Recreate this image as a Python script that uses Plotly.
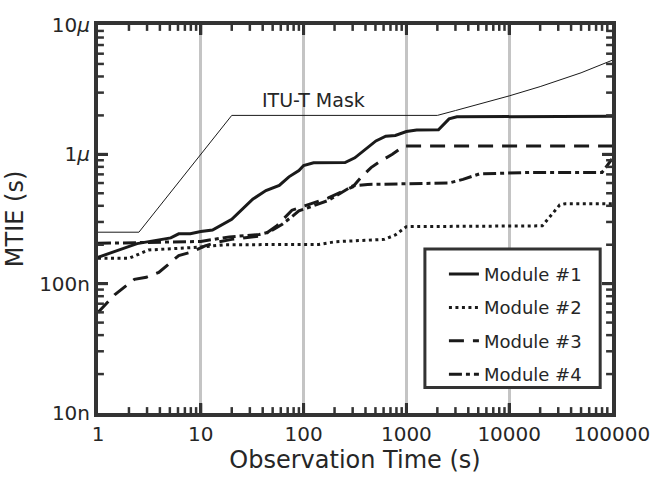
import plotly.graph_objects as go

# ---- data ----
mask_tau = [1, 2.5, 20, 2000, 3000, 5000, 10000, 20000, 50000, 100000]
mask_mtie = [2.5e-7, 2.5e-7, 2.0e-6, 2.0e-6, 2.18e-6, 2.43e-6, 2.83e-6, 3.34e-6, 4.27e-6, 5.33e-6]

m1_tau = [1, 2.4, 5.1, 6.1, 7.9, 10, 13, 20, 32, 43, 58, 72, 90, 100, 125, 175, 253, 315, 420, 505, 630, 780, 1000, 1260, 2050, 2600, 3100, 100000]
m1_mtie = [1.6e-7, 2.04e-7, 2.26e-7, 2.43e-7, 2.43e-7, 2.53e-7, 2.6e-7, 3.15e-7, 4.5e-7, 5.25e-7, 5.75e-7, 6.7e-7, 7.5e-7, 8.2e-7, 8.6e-7, 8.65e-7, 8.65e-7, 9.4e-7, 1.14e-6, 1.27e-6, 1.38e-6, 1.40e-6, 1.50e-6, 1.54e-6, 1.55e-6, 1.88e-6, 1.95e-6, 1.97e-6]

m2_tau = [1, 2, 3.1, 10, 17, 72, 140, 204, 610, 780, 1000, 21000, 31000, 35000, 100000]
m2_mtie = [1.57e-7, 1.57e-7, 1.82e-7, 1.92e-7, 2.0e-7, 2.01e-7, 2.01e-7, 2.11e-7, 2.2e-7, 2.38e-7, 2.76e-7, 2.8e-7, 4.06e-7, 4.15e-7, 4.15e-7]

m3_tau = [1, 1.45, 2.26, 2.95, 3.9, 4.9, 6.1, 8.0, 11, 14.7, 20, 40, 55, 77, 174, 300, 363, 453, 565, 730, 950, 100000]
m3_mtie = [6.0e-8, 8.2e-8, 1.08e-7, 1.12e-7, 1.22e-7, 1.42e-7, 1.65e-7, 1.75e-7, 1.96e-7, 2.1e-7, 2.2e-7, 2.35e-7, 2.8e-7, 3.7e-7, 4.6e-7, 5.6e-7, 6.65e-7, 7.9e-7, 8.9e-7, 1.0e-6, 1.16e-6, 1.16e-6]

m4_tau = [1, 3, 10, 19, 37, 46, 62, 77, 90, 174, 300, 420, 2600, 3550, 5100, 16700, 80000, 100000]
m4_mtie = [2.05e-7, 2.08e-7, 2.12e-7, 2.3e-7, 2.4e-7, 2.5e-7, 2.88e-7, 3.3e-7, 3.65e-7, 4.4e-7, 5.7e-7, 5.85e-7, 6.0e-7, 6.4e-7, 7.05e-7, 7.25e-7, 7.25e-7, 9.2e-7]

x_tickvals = [1, 10, 100, 1000, 10000, 100000]
x_ticktext = ["1", "10", "100", "1000", "10000", "100000"]
y_tickvals = [1e-8, 1e-7, 1e-6, 1e-5]
y_ticktext = ["10n", "100n", "1<i>μ</i>", "10<i>μ</i>"]

series_names = ["Module #1", "Module #2", "Module #3", "Module #4"]

FONT = "DejaVu Sans"
INK = "#1a1a1a"
AX = "#333333"
TXT = "#262626"

# minor tick positions (2..9 in each decade)
minor_x = [m * 10 ** e for e in range(0, 5) for m in range(2, 10)]
minor_y = [m * 10.0 ** e for e in range(-8, -5) for m in range(2, 10)]

fig = go.Figure()

fig.add_trace(go.Scatter(x=mask_tau, y=mask_mtie, mode="lines",
                         line=dict(color=INK, width=1), showlegend=False,
                         hoverinfo="skip"))

styles = [
    dict(color=INK, width=3, dash="solid"),
    dict(color=INK, width=3, dash="3px,3.5px"),
    dict(color=INK, width=3, dash="15px,9px"),
    dict(color=INK, width=3, dash="13px,4px,4px,4px"),
]
for i, (tx, ty) in enumerate([(m1_tau, m1_mtie), (m2_tau, m2_mtie),
                              (m3_tau, m3_mtie), (m4_tau, m4_mtie)]):
    fig.add_trace(go.Scatter(x=tx, y=ty, mode="lines", name=series_names[i],
                             line=styles[i], legendgroup=f"g{i}"))

# plot-area size in px (for tick lengths in paper units)
PW, PH = 662 - 96 - 44, 481 - 25 - 61
shapes = [dict(type="rect", xref="paper", yref="paper",
               x0=0.636, x1=0.977, y0=0.066, y1=0.423,
               fillcolor="white", line=dict(color=AX, width=3), layer="above")]


def xtick(v, length, width):
    for y0, y1 in ((0, length / PH), (1 - length / PH, 1)):
        shapes.append(dict(type="line", xref="x", yref="paper", x0=v, x1=v, y0=y0, y1=y1,
                           line=dict(color=AX, width=width), layer="above"))


def ytick(v, length, width):
    for x0, x1 in ((0, length / PW), (1 - length / PW, 1)):
        shapes.append(dict(type="line", xref="paper", yref="y", x0=x0, x1=x1, y0=v, y1=v,
                           line=dict(color=AX, width=width), layer="above"))


for v in minor_x:
    xtick(v, 6, 2.5)
for v in x_tickvals[1:-1]:
    xtick(v, 10, 3)
for v in minor_y:
    ytick(v, 6, 2.5)
for v in y_tickvals[1:-1]:
    ytick(v, 10, 3)

fig.update_layout(
    width=662, height=481,
    margin=dict(l=96, r=44, t=25, b=61),
    plot_bgcolor="white",
    font=dict(family=FONT, size=20, color=TXT),
    showlegend=True,
    legend=dict(x=0.673, y=0.405, xanchor="left", yanchor="top",
                bgcolor="rgba(0,0,0,0)", borderwidth=0,
                font=dict(size=18),
                traceorder="grouped", tracegroupgap=7),
    xaxis=dict(type="log", range=[0, 5], tickmode="array", tickvals=x_tickvals, ticktext=x_ticktext,
               ticks="inside", ticklen=10, tickwidth=3, tickcolor=AX,
               showline=True, linewidth=4, linecolor=AX, mirror="allticks",
               showgrid=True, gridcolor="#c4c4c4", gridwidth=3, zeroline=False,
               title=dict(text="Observation Time (s)", standoff=6, font=dict(size=24))),
    yaxis=dict(type="log", range=[-8, -5], tickmode="array", tickvals=y_tickvals, ticktext=y_ticktext,
               ticks="inside", ticklen=10, tickwidth=3, tickcolor=AX,
               showline=True, linewidth=4, linecolor=AX, mirror="allticks",
               showgrid=False, zeroline=False,
               title=dict(text="MTIE (s)", standoff=10, font=dict(size=24))),
    shapes=shapes,
    annotations=[dict(x=2.1, y=-5.577, xref="x", yref="y", text="ITU-T Mask",
                      showarrow=False, font=dict(size=19))],
)

fig.write_html("out.html")
